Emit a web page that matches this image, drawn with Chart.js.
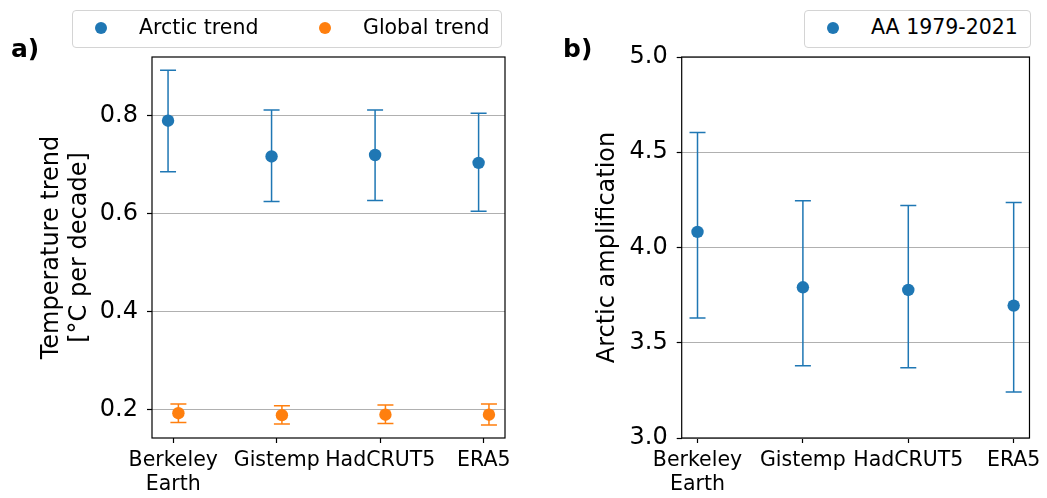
<!DOCTYPE html>
<html>
<head>
<meta charset="utf-8">
<script src="https://cdn.jsdelivr.net/npm/chart.js@4"></script>
<style>
body { margin: 0; background: #fff; font-family: "DejaVu Sans", sans-serif; }
#wrap { position: relative; width: 1047px; height: 498px; overflow: hidden; }
canvas { position: absolute; top: 0; }
.lbl { position: absolute; font-weight: bold; font-size: 25px; line-height: 1; color: #000; }
.legend { position: absolute; top: 10px; height: 38px; box-sizing: border-box; border: 1px solid #d4d4d4; border-radius: 4px; background: #fff; }
.legend span.txt { position: absolute; font-size: 20.5px; line-height: 1; white-space: nowrap; color: #000; }
.legend span.dot { position: absolute; width: 12px; height: 12px; border-radius: 50%; }
</style>
</head>
<body>
<div id="wrap">
  <canvas id="trendChart" width="520" height="498" style="left:0"></canvas>
  <canvas id="aaChart" width="507" height="498" style="left:540px"></canvas>
  <div class="lbl" style="left:11px;top:36px">a)</div>
  <div class="lbl" style="left:563px;top:36px">b)</div>
  <div class="legend" id="legendA" style="left:72px;width:430px"></div>
  <div class="legend" id="legendB" style="left:804px;width:227px"></div>
</div>
<script>
const categories = [["Berkeley", "Earth"], "Gistemp", "HadCRUT5", "ERA5"];
const trendNames = ["Arctic trend", "Global trend"];
const aaName = "AA 1979-2021";

const arcticTrend = [0.789, 0.716, 0.719, 0.703];
const arcticLow = [0.685, 0.624, 0.626, 0.604];
const arcticHigh = [0.892, 0.811, 0.811, 0.804];
const globalTrend = [0.192, 0.188, 0.189, 0.189];
const globalLow = [0.173, 0.170, 0.171, 0.168];
const globalHigh = [0.211, 0.207, 0.209, 0.211];

const aaValues = [4.082, 3.791, 3.777, 3.695];
const aaLow = [3.630, 3.379, 3.369, 3.241];
const aaHigh = [4.604, 4.246, 4.220, 4.236];

const trendTicks = [0.2, 0.4, 0.6, 0.8];
const aaTicks = [3.0, 3.5, 4.0, 4.5, 5.0];

const blue = "#1f77b4";
const orange = "#ff7f0e";
const family = "'DejaVu Sans', sans-serif";

// error bars under the markers, axes frame on top
const errorBars = {
  id: "errorBars",
  beforeDatasetsDraw(chart) {
    const { ctx, scales: { x, y } } = chart;
    chart.data.datasets.forEach((ds) => {
      ctx.save();
      ctx.strokeStyle = ds.backgroundColor;
      ctx.lineWidth = 1.5;
      ds.data.forEach((p, i) => {
        const px = x.getPixelForValue(p.x);
        const top = y.getPixelForValue(ds.high[i]);
        const bot = y.getPixelForValue(ds.low[i]);
        ctx.beginPath();
        ctx.moveTo(px, top); ctx.lineTo(px, bot);
        ctx.moveTo(px - 8, top); ctx.lineTo(px + 8, top);
        ctx.moveTo(px - 8, bot); ctx.lineTo(px + 8, bot);
        ctx.stroke();
      });
      ctx.restore();
    });
  },
  afterDraw(chart) {
    const { ctx, chartArea: a } = chart;
    ctx.save();
    ctx.strokeStyle = "#000";
    ctx.lineWidth = 1.2;
    ctx.strokeRect(a.left, a.top, a.right - a.left, a.bottom - a.top);
    ctx.restore();
  },
};

function series(values, low, high, offset, color) {
  return {
    data: values.map((v, i) => ({ x: i + offset, y: v })),
    low, high,
    backgroundColor: color,
    borderWidth: 0,
    pointRadius: 6.2,
    pointHoverRadius: 6.2,
  };
}

function makeChart(id, datasets, xRange, yRange, yTicks, title, yWidth, titlePad, padRight) {
  return new Chart(document.getElementById(id), {
    type: "scatter",
    data: { datasets },
    plugins: [errorBars],
    options: {
      responsive: false,
      animation: false,
      layout: { padding: { left: 0, right: padRight, top: 57, bottom: 0 } },
      plugins: { legend: { display: false }, tooltip: { enabled: false } },
      scales: {
        x: {
          type: "linear", min: xRange[0], max: xRange[1],
          afterBuildTicks: (s) => { s.ticks = categories.map((_, i) => ({ value: i })); },
          afterFit: (s) => { s.height = 60; },
          ticks: { callback: (v) => categories[v], autoSkip: false, maxRotation: 0, padding: 6, color: "#000", font: { family, size: 20.5, lineHeight: 1.15 } },
          grid: { drawOnChartArea: false, tickLength: 5, tickColor: "#000", tickWidth: 1.2 },
          border: { display: false },
        },
        y: {
          min: yRange[0], max: yRange[1],
          afterBuildTicks: (s) => { s.ticks = yTicks.map((v) => ({ value: v })); },
          afterFit: (s) => { s.width = yWidth; },
          ticks: { callback: (v) => v.toFixed(1), padding: 9, color: "#000", font: { family, size: 24 } },
          grid: { color: "#b0b0b0", lineWidth: 1, tickLength: 5, tickColor: "#000", tickWidth: 1.2 },
          border: { display: false },
          title: { display: true, text: title, color: "#000", font: { family, size: 24, lineHeight: 1.2 }, padding: { top: titlePad, bottom: 0 } },
        },
      },
    },
  });
}

makeChart("trendChart",
  [series(arcticTrend, arcticLow, arcticHigh, -0.05, blue), series(globalTrend, globalLow, globalHigh, 0.05, orange)],
  [-0.205, 3.205], [0.1414, 0.919], trendTicks,
  ["Temperature trend", "[°C per decade]"], 152, 37, 15);

makeChart("aaChart",
  [series(aaValues, aaLow, aaHigh, 0, blue)],
  [-0.15, 3.15], [3.0, 5.0], aaTicks,
  "Arctic amplification", 141.7, 53.3, 13.3);

function legend(el, items) {
  items.forEach(([name, color, dotX, txtX]) => {
    const d = document.createElement("span");
    d.className = "dot";
    d.style.cssText = `left:${dotX}px;top:11px;background:${color}`;
    const t = document.createElement("span");
    t.className = "txt";
    t.style.cssText = `left:${txtX}px;top:6px`;
    t.textContent = name;
    el.append(d, t);
  });
}
legend(document.getElementById("legendA"), [[trendNames[0], blue, 22, 66], [trendNames[1], orange, 246, 290]]);
legend(document.getElementById("legendB"), [[aaName, blue, 22, 66]]);
</script>
</body>
</html>
